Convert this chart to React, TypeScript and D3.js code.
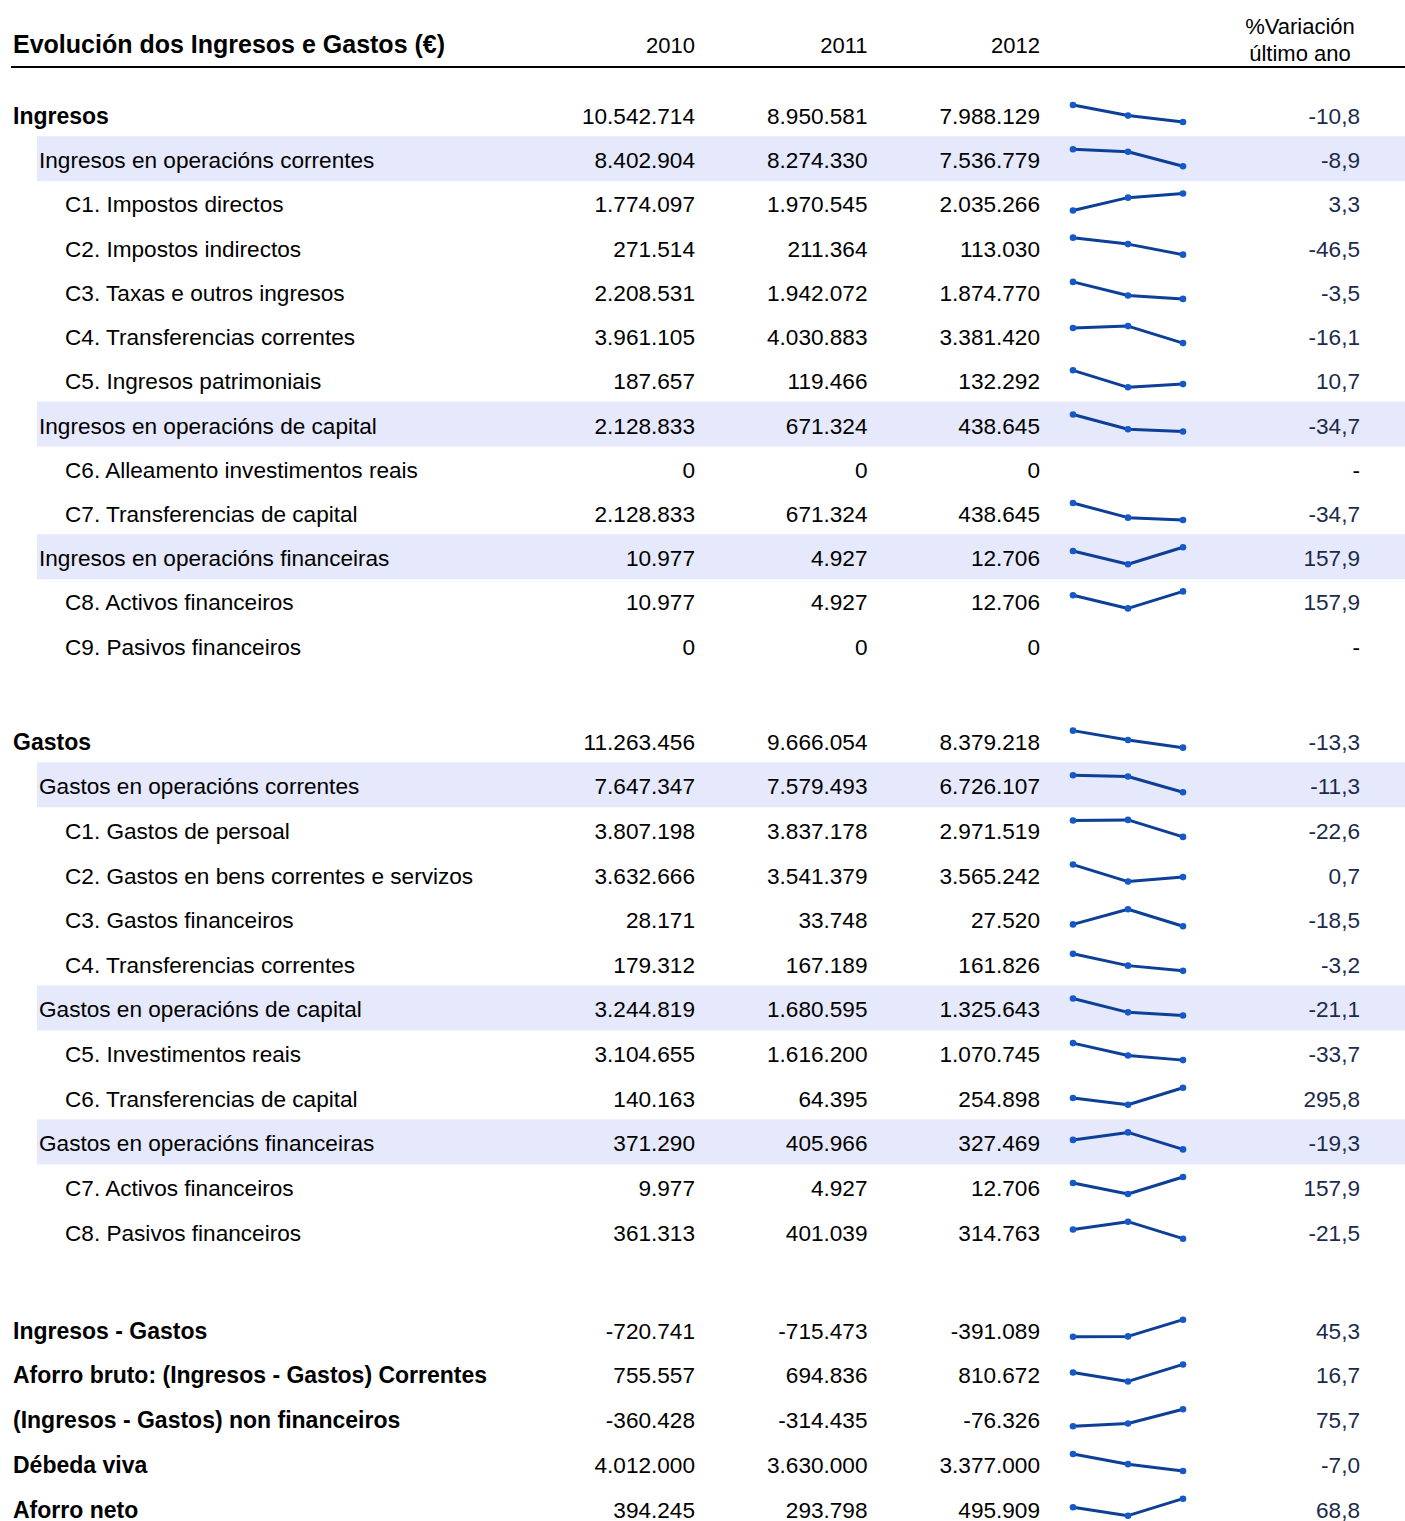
import React from "react";
import { scaleLinear, scalePoint, line, extent } from "d3";

// row labels, in drawing order; "" marks a vertical gap
const labels = [
  "Ingresos",
  "Ingresos en operacións correntes",
  "C1. Impostos directos",
  "C2. Impostos indirectos",
  "C3. Taxas e outros ingresos",
  "C4. Transferencias correntes",
  "C5. Ingresos patrimoniais",
  "Ingresos en operacións de capital",
  "C6. Alleamento investimentos reais",
  "C7. Transferencias de capital",
  "Ingresos en operacións financeiras",
  "C8. Activos financeiros",
  "C9. Pasivos financeiros",
  "",
  "Gastos",
  "Gastos en operacións correntes",
  "C1. Gastos de persoal",
  "C2. Gastos en bens correntes e servizos",
  "C3. Gastos financeiros",
  "C4. Transferencias correntes",
  "Gastos en operacións de capital",
  "C5. Investimentos reais",
  "C6. Transferencias de capital",
  "Gastos en operacións financeiras",
  "C7. Activos financeiros",
  "C8. Pasivos financeiros",
  "",
  "Ingresos - Gastos",
  "Aforro bruto: (Ingresos - Gastos) Correntes",
  "(Ingresos - Gastos) non financeiros",
  "Débeda viva",
  "Aforro neto",
];

// 0 = heading (bold), 1 = shaded subtotal, 2 = chapter
const levels = [
  0, 1, 2, 2, 2, 2, 2, 1, 2, 2, 1, 2, 2, -1,
  0, 1, 2, 2, 2, 2, 1, 2, 2, 1, 2, 2, -1,
  0, 0, 0, 0, 0,
];

const years = ["2010", "2011", "2012"];

const values2010 = [
  10542714, 8402904, 1774097, 271514, 2208531, 3961105, 187657, 2128833, 0, 2128833, 10977, 10977, 0, null,
  11263456, 7647347, 3807198, 3632666, 28171, 179312, 3244819, 3104655, 140163, 371290, 9977, 361313, null,
  -720741, 755557, -360428, 4012000, 394245,
];
const values2011 = [
  8950581, 8274330, 1970545, 211364, 1942072, 4030883, 119466, 671324, 0, 671324, 4927, 4927, 0, null,
  9666054, 7579493, 3837178, 3541379, 33748, 167189, 1680595, 1616200, 64395, 405966, 4927, 401039, null,
  -715473, 694836, -314435, 3630000, 293798,
];
const values2012 = [
  7988129, 7536779, 2035266, 113030, 1874770, 3381420, 132292, 438645, 0, 438645, 12706, 12706, 0, null,
  8379218, 6726107, 2971519, 3565242, 27520, 161826, 1325643, 1070745, 254898, 327469, 12706, 314763, null,
  -391089, 810672, -76326, 3377000, 495909,
];
const variation = [
  "-10,8", "-8,9", "3,3", "-46,5", "-3,5", "-16,1", "10,7", "-34,7", "-", "-34,7", "157,9", "157,9", "-", "",
  "-13,3", "-11,3", "-22,6", "0,7", "-18,5", "-3,2", "-21,1", "-33,7", "295,8", "-19,3", "157,9", "-21,5", "",
  "45,3", "16,7", "75,7", "-7,0", "68,8",
];

const W = 1405;
const H = 1521;
const FONT = "'Liberation Sans', Arial, Helvetica, sans-serif";
const BAND = "#e6e9fb";
const LINE = "#0d3f97";
const DOT = "#1558c8";
const PCT = "#1c2b4a";

const fmt = (v: number) => {
  const s = Math.abs(v)
    .toString()
    .replace(/\B(?=(\d{3})+(?!\d))/g, ".");
  return (v < 0 ? "-" : "") + s;
};

// vertical layout: each block has its own row pitch, gaps between blocks
const pitches = [44.22, 44.64, 44.75];
const gaps = [95, 98];
const rowCenters: number[] = [];
{
  let y = 116;
  let block = 0;
  let afterGap = false;
  labels.forEach((l, i) => {
    if (l === "") {
      rowCenters.push(y);
      afterGap = true;
      return;
    }
    if (i > 0) {
      if (afterGap) {
        y += gaps[block];
        block += 1;
        afterGap = false;
      } else {
        y += pitches[block];
      }
    }
    rowCenters.push(y);
  });
}

const colRight = scalePoint<string>().domain(years).range([695, 1040]);
const sparkX = scalePoint<string>().domain(years).range([1073, 1183]);
const indentX = [13, 39, 65];

const Sparkline = ({ vals, cy }: { vals: number[]; cy: number }) => {
  const [lo, hi] = extent(vals) as [number, number];
  const y = scaleLinear().domain([lo, hi]).range([cy + 6, cy - 11]);
  const pts = years.map((yr, i) => ({ yr, v: vals[i] }));
  const path = line<{ yr: string; v: number }>()
    .x((d) => sparkX(d.yr) as number)
    .y((d) => y(d.v))(pts);
  return (
    <g>
      <path d={path || ""} fill="none" stroke={LINE} strokeWidth={3} strokeLinejoin="round" />
      {pts.map((d) => (
        <circle key={d.yr} cx={sparkX(d.yr)} cy={y(d.v)} r={3.3} fill={DOT} />
      ))}
    </g>
  );
};

export default function App() {
  return (
    <svg
      width={W}
      height={H}
      style={{ position: "absolute", left: 0, top: 0, background: "#fff" }}
      fontFamily={FONT}
      fontSize={22.6}
    >
      {/* header */}
      <text x={13} y={53} fontWeight="bold" fontSize={25} fill="#000">
        Evolución dos Ingresos e Gastos (€)
      </text>
      {years.map((yr) => (
        <text key={yr} x={colRight(yr)} y={53} textAnchor="end" fontSize={22} fill="#000">
          {yr}
        </text>
      ))}
      <text x={1300} y={34} textAnchor="middle" fontSize={22} fill="#000">
        %Variación
      </text>
      <text x={1300} y={61} textAnchor="middle" fontSize={22} fill="#000">
        último ano
      </text>
      <line x1={11} x2={W} y1={67} y2={67} stroke="#000" strokeWidth={2} />

      {/* shaded subtotal bands */}
      {labels.map((l, i) =>
        levels[i] === 1 ? (
          <rect key={"b" + i} x={37} y={rowCenters[i] - 24} width={W - 37} height={45} fill={BAND} />
        ) : null
      )}

      {/* rows */}
      {labels.map((l, i) => {
        if (l === "") return null;
        const cy = rowCenters[i];
        const base = cy + 8;
        const vals = [values2010[i], values2011[i], values2012[i]] as number[];
        const allZero = vals.every((v) => v === 0);
        return (
          <g key={"r" + i}>
            <text
              x={indentX[levels[i]]}
              y={base}
              fontWeight={levels[i] === 0 ? "bold" : "normal"}
              fontSize={levels[i] === 0 ? 23 : 22.6}
              fill="#000"
            >
              {l}
            </text>
            {years.map((yr, j) => (
              <text key={yr} x={colRight(yr)} y={base} textAnchor="end" fill="#000">
                {fmt(vals[j])}
              </text>
            ))}
            {!allZero && <Sparkline vals={vals} cy={cy} />}
            <text x={1360} y={base} textAnchor="end" fill={variation[i] === "-" ? "#000" : PCT}>
              {variation[i]}
            </text>
          </g>
        );
      })}
    </svg>
  );
}
